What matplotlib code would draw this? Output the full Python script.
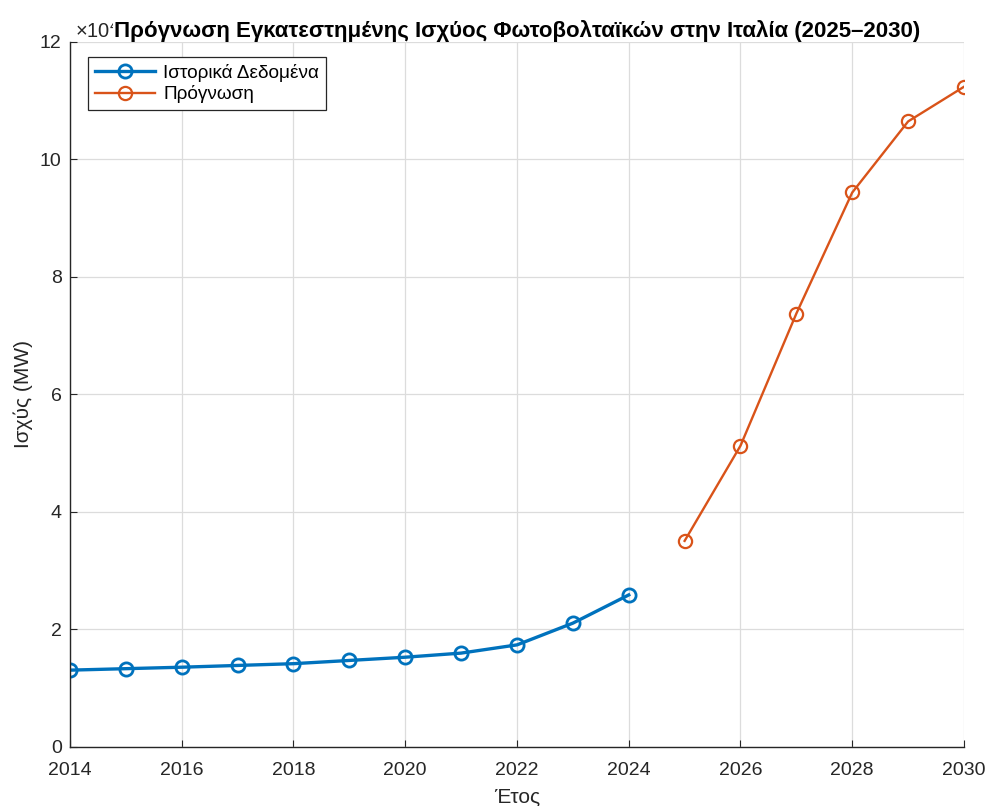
import numpy as np
import matplotlib
matplotlib.use("Agg")
from matplotlib import pyplot as plt
from matplotlib.ticker import FuncFormatter

plt.rcParams['font.family'] = ['Liberation Sans', 'DejaVu Sans']
plt.rcParams['mathtext.fontset'] = 'custom'
plt.rcParams['mathtext.rm'] = 'Liberation Sans'

# historical installed capacity (MW)
hist_years = [2014, 2015, 2016, 2017, 2018, 2019, 2020, 2021, 2022, 2023, 2024]
hist_mw = [13000, 13250, 13500, 13800, 14100, 14650, 15200, 15900, 17300, 21000, 25800]

# forecast (MW)
fc_years = [2025, 2026, 2027, 2028, 2029, 2030]
fc_mw = [35000, 51200, 73700, 94300, 106400, 112300]

blue = '#0072BD'
orange = '#D95319'
dark = '#262626'

fig = plt.figure(figsize=(9.87, 8.06), dpi=100)
ax = fig.add_axes([0.0709, 0.0738, 0.9058, 0.8747])

ax.plot(hist_years, hist_mw, '-o', color=blue, lw=2.4, ms=9.5, mfc='none', mew=2,
        label='Ιστορικά Δεδομένα')
ax.plot(fc_years, fc_mw, '-o', color=orange, lw=1.7, ms=9.5, mfc='none', mew=1.6,
        label='Πρόγνωση')

ax.set_xlim(2014, 2030)
ax.set_ylim(0, 120000)
ax.set_xticks(np.arange(2014, 2031, 2))
ax.set_yticks(np.arange(0, 120001, 20000))
# MATLAB style: tick labels in units of 10^4, exponent at top-left (partly hidden by the title)
ax.yaxis.set_major_formatter(FuncFormatter(lambda v, p: '%d' % round(v / 1e4)))
ax.text(0.006, 0.999, r'$\times 10^4$', transform=ax.transAxes, ha='left', va='bottom',
        fontsize=14.5, color=dark, zorder=3)

ax.grid(True, color='#dcdcdc', lw=0.9)
ax.set_axisbelow(True)
for s in ['top', 'right']:
    ax.spines[s].set_visible(False)
for s in ['left', 'bottom']:
    ax.spines[s].set_color(dark)
    ax.spines[s].set_linewidth(1.0)
ax.tick_params(direction='in', length=5, labelsize=14, colors=dark)
ax.tick_params(axis='x', pad=11)
ax.tick_params(axis='y', pad=6)

ax.set_xlabel('Έτος', fontsize=15, color=dark, labelpad=6)
ax.set_ylabel('Ισχύς (MW)', fontsize=15, color=dark)
ax.yaxis.set_label_coords(-0.041, 0.5)
ax.set_title('Πρόγνωση Εγκατεστημένης Ισχύος Φωτοβολταϊκών στην Ιταλία (2025–2030)',
             fontsize=16, fontweight='bold', pad=3, zorder=10,
             bbox=dict(facecolor='white', edgecolor='none', pad=0.5))

leg = ax.legend(loc='upper left', fontsize=13.7, fancybox=False, framealpha=1,
                edgecolor=dark, handlelength=3.2, handletextpad=0.4, borderpad=0.35,
                labelspacing=0.2, borderaxespad=0, bbox_to_anchor=(0.02, 0.978))
leg.get_frame().set_linewidth(0.9)

fig.savefig('out.png', dpi=100)
